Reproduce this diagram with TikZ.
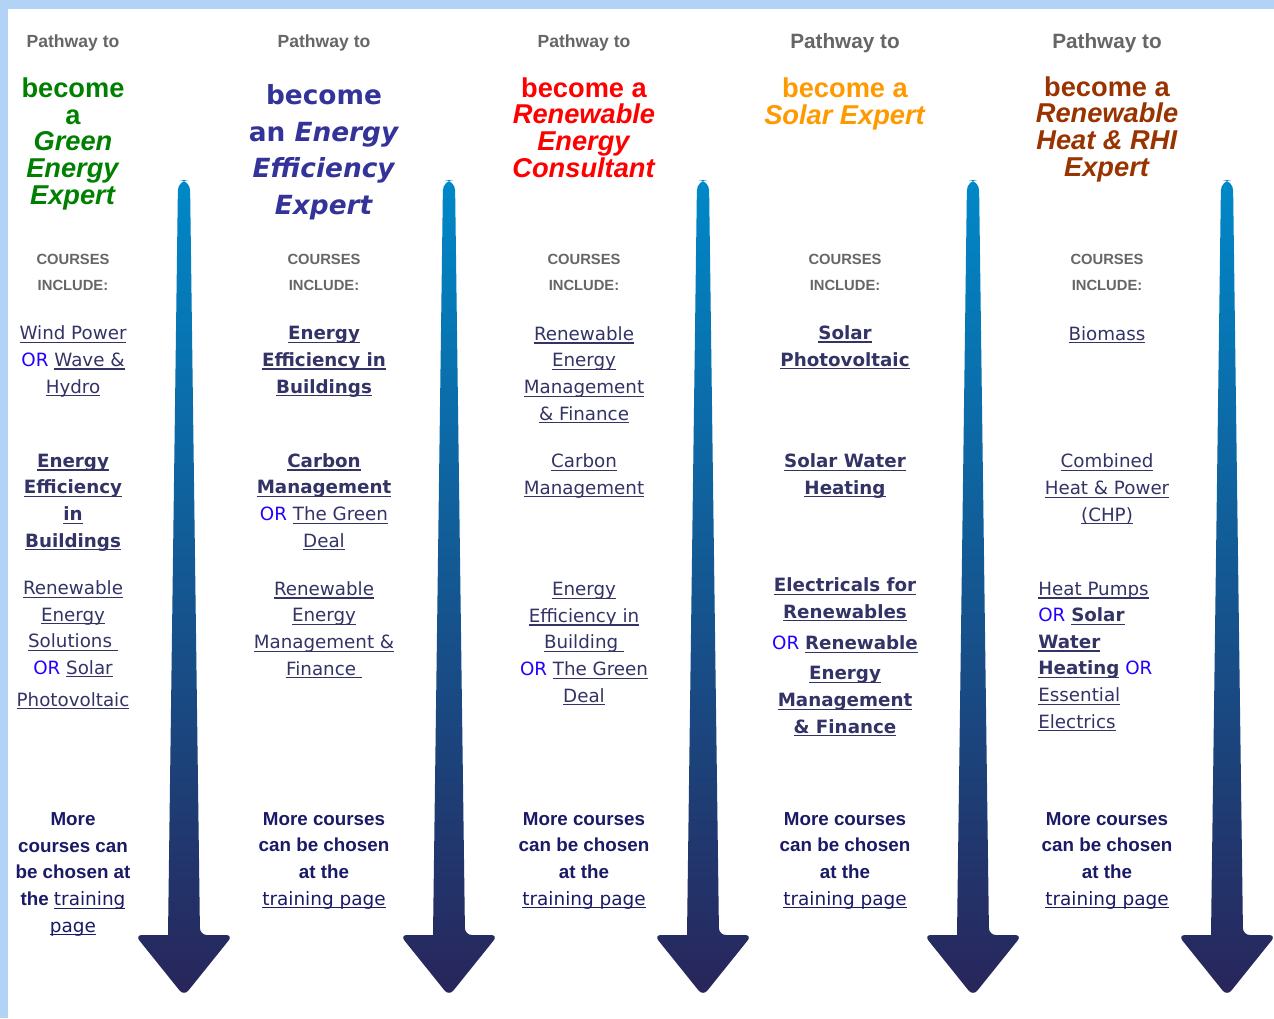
\documentclass[tikz,border=0pt]{standalone}
\usepackage{fontspec}
\usepackage{tikz}
\setmainfont{Liberation Sans}
\newfontfamily\arialf{Liberation Sans}
\newfontfamily\verf{DejaVu Sans}

\definecolor{edgeblue}{HTML}{B3D3F6}
\definecolor{greyc}{HTML}{666666}
\definecolor{linkc}{HTML}{333366}
\definecolor{orblue}{HTML}{2200FF}
\definecolor{morec}{HTML}{1A1A66}
\definecolor{greenc}{HTML}{008000}
\definecolor{bluec}{HTML}{333399}
\definecolor{redc}{HTML}{FF0000}
\definecolor{orangec}{HTML}{FF9900}
\definecolor{brownc}{HTML}{993300}
\definecolor{arrtop}{HTML}{0088C8}
\definecolor{arrmid}{HTML}{0E67A3}
\definecolor{arrbot}{HTML}{28255A}

\newcommand{\lk}[1]{\leavevmode\setbox0\hbox{#1}\rlap{\rule[-1.8pt]{\wd0}{0.65pt}}\box0}
\newcommand{\bk}[1]{{\bfseries\lk{#1}}}
\newcommand{\orw}{{\color{orblue}OR}}
\newcommand{\tp}[1]{{\verf\mdseries\fontsize{10.5}{15.1}\selectfont\lk{#1}}}

\begin{document}
\begin{tikzpicture}[x=0.02cm, y=-0.02cm, inner sep=0pt,
		path_style/.style={anchor=base,text=greyc,font=\arialf\bfseries\fontsize{10}{12}\selectfont},
		big_path/.style={path_style,font=\arialf\bfseries\fontsize{11.8}{12}\selectfont},
		inc_style/.style={anchor=base,align=center,text=greyc,font=\arialf\bfseries\fontsize{8.4}{14.7}\selectfont},
		head_style/.style={anchor=base,align=center,font=\arialf\bfseries\fontsize{15.5}{15.1}\selectfont},
		blue_head/.style={anchor=base,align=center,text=bluec,font=\verf\bfseries\fontsize{15}{20.7}\selectfont},
		course_style/.style={anchor=base,align=center,text=linkc,font=\verf\fontsize{10.4}{15.1}\selectfont},
		more_style/.style={anchor=base,align=center,text=morec,font=\arialf\bfseries\fontsize{10.7}{15.1}\selectfont},
		arrow_style/.style={top color=arrtop,middle color=arrmid,bottom color=arrbot}]

		\useasboundingbox (0,0) rectangle (1274,1018);
		\fill[edgeblue] (0,0) rectangle (1274,1018);
		\fill[white] (8,9) rectangle (1274,1018);

		% the five arrows
		\foreach \x in {184,449,703,973,1227}
			\shade[arrow_style] (\x-16,935) [rounded corners=6] -- (\x-6,180) -- (\x+6,180) [rounded corners=4] -- (\x+16,935)
				-- (\x+49,935) -- (\x,996) -- (\x-49,935) [sharp corners] -- cycle;

		% column 1 (nodes sit on the baseline of their last line)
		\node[path_style] (p1) at (73,47) {Pathway to};
		\node[head_style,text=greenc] (h1) at (73,204) {become\\a\\\textit{Green}\\\textit{Energy}\\\textit{Expert}};
		\node[inc_style] (i1) at (73,290) {COURSES\\INCLUDE:};
		\node[course_style] (c1a) at (73,393) {\lk{Wind Power}\\\orw{} \lk{Wave \&}\\\lk{Hydro}};
		\node[course_style] (c1b) at (73,547) {\bk{Energy}\\\bk{Efficiency}\\\bk{in}\\\bk{Buildings}};
		\node[course_style] (c1c) at (73,706) {\lk{Renewable}\\\lk{Energy}\\\lk{Solutions }\\\orw{} \lk{Solar}\\[3pt]\lk{Photovoltaic}};
		\node[more_style] (m1) at (73,932) {More\\courses can\\be chosen at\\the \tp{training}\\\tp{page}};

		% column 2
		\node[path_style] (p2) at (324,47) {Pathway to};
		\node[blue_head] (h2) at (324,214) {become\\an \textit{Energy}\\\textit{Efficiency}\\\textit{Expert}};
		\node[inc_style] (i2) at (324,290) {COURSES\\INCLUDE:};
		\node[course_style] (c2a) at (324,393) {\bk{Energy}\\\bk{Efficiency in}\\\bk{Buildings}};
		\node[course_style] (c2b) at (324,547) {\bk{Carbon}\\\bk{Management}\\\orw{} \lk{The Green}\\\lk{Deal}};
		\node[course_style] (c2c) at (324,675) {\lk{Renewable}\\\lk{Energy}\\\lk{Management \&}\\\lk{Finance }};
		\node[more_style] (m2) at (324,905) {More courses\\can be chosen\\at the\\\tp{training page}};

		% column 3
		\node[path_style] (p3) at (584,47) {Pathway to};
		\node[head_style,text=redc] (h3) at (584,177) {become a\\\textit{Renewable}\\\textit{Energy}\\\textit{Consultant}};
		\node[inc_style] (i3) at (584,290) {COURSES\\INCLUDE:};
		\node[course_style] (c3a) at (584,420) {\lk{Renewable}\\\lk{Energy}\\\lk{Management}\\\lk{\& Finance}};
		\node[course_style] (c3b) at (584,494) {\lk{Carbon}\\\lk{Management}};
		\node[course_style] (c3c) at (584,702) {\lk{Energy}\\\lk{Efficiency in}\\\lk{Building }\\\orw{} \lk{The Green}\\\lk{Deal}};
		\node[more_style] (m3) at (584,905) {More courses\\can be chosen\\at the\\\tp{training page}};

		% column 4
		\node[big_path] (p4) at (845,48) {Pathway to};
		\node[head_style,text=orangec] (h4) at (845,124) {become a\\\textit{Solar Expert}};
		\node[inc_style] (i4) at (845,290) {COURSES\\INCLUDE:};
		\node[course_style] (c4a) at (845,366) {\bk{Solar}\\\bk{Photovoltaic}};
		\node[course_style] (c4b) at (845,494) {\bk{Solar Water}\\\bk{Heating}};
		\node[course_style] (c4c) at (845,733) {\bk{Electricals for}\\\bk{Renewables}\\[3pt]\orw{} \bk{Renewable}\\[2pt]\bk{Energy}\\\bk{Management}\\\bk{\& Finance}};
		\node[more_style] (m4) at (845,905) {More courses\\can be chosen\\at the\\\tp{training page}};

		% column 5
		\node[big_path] (p5) at (1107,48) {Pathway to};
		\node[head_style,text=brownc] (h5) at (1107,176) {become a\\\textit{Renewable}\\\textit{Heat \& RHI}\\\textit{Expert}};
		\node[inc_style] (i5) at (1107,290) {COURSES\\INCLUDE:};
		\node[course_style] (c5a) at (1107,340) {\lk{Biomass}};
		\node[course_style] (c5b) at (1107,521) {\lk{Combined}\\\lk{Heat \& Power}\\\lk{(CHP)}};
		\node[course_style,anchor=base west,align=left] (c5c) at (1038,728) {\lk{Heat Pumps}\\\orw{} \bk{Solar}\\\bk{Water}\\\bk{Heating} \orw\\\lk{Essential}\\\lk{Electrics}};
		\node[more_style] (m5) at (1107,905) {More courses\\can be chosen\\at the\\\tp{training page}};
\end{tikzpicture}
\end{document}
